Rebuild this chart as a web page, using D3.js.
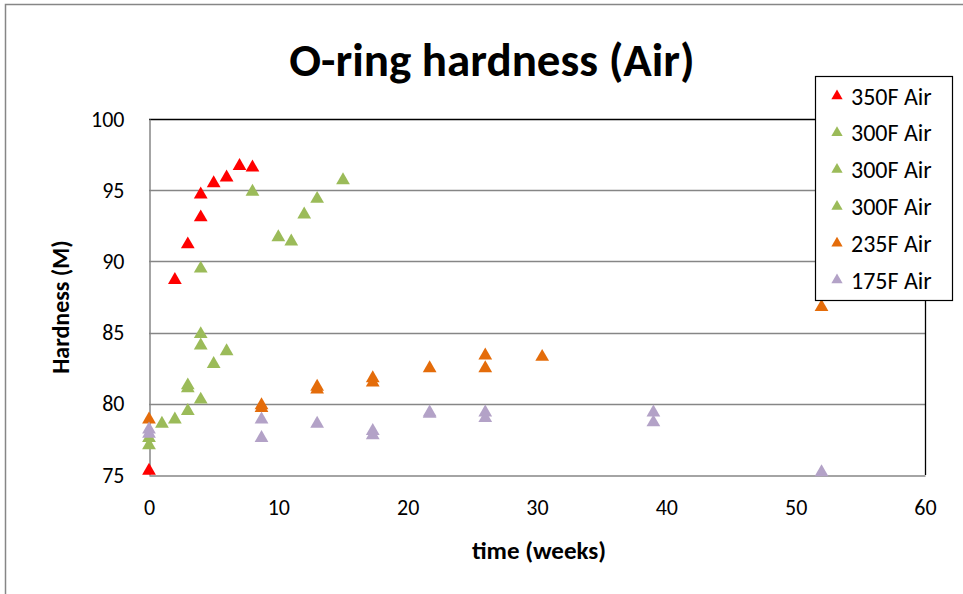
<!DOCTYPE html>
<html>
<head>
<meta charset="utf-8">
<script src="https://cdn.jsdelivr.net/npm/d3@7"></script>
<style>
  body { margin: 0; background: #fff; }
  text { font-family: Carlito, Lato, "Open Sans", sans-serif; fill: #000; }
</style>
</head>
<body>
<svg id="chart" width="963" height="594"></svg>
<script>
// data: [weeks, hardness]
var s350 = [[0,75.4],[2,88.8],[3,91.3],[4,93.2],[4,94.8],[5,95.6],[6,96.0],[7,96.8],[8,96.7]];
var s300a = [[0,77.2],[1,78.7],[2,79.0],[3,79.6],[4,80.4],[5,82.9],[6,83.8]];
var s300b = [[0,77.7],[3,81.2],[3,81.4],[4,84.2],[4,85.0]];
var s300c = [[4,89.6],[8,95.0],[10,91.8],[11,91.5],[12,93.4],[13,94.5],[15,95.8]];
var s235 = [[0,79.0],[8.7,79.8],[8.7,80.0],[13,81.1],[13,81.3],[17.3,81.6],[17.3,81.9],[21.7,82.6],[26,82.6],[26,83.5],[30.4,83.4],[52,86.9]];
var s175 = [[0,78.0],[0,78.3],[8.7,77.7],[8.7,79.0],[13,78.7],[17.3,77.9],[17.3,78.2],[21.7,79.4],[21.7,79.5],[26,79.1],[26,79.5],[39,78.8],[39,79.5],[52,75.3]];

var seriesNames = ["350F Air", "300F Air", "300F Air", "300F Air", "235F Air", "175F Air"];
var seriesColors = ["#ff0000", "#9bbb59", "#9bbb59", "#9bbb59", "#e46c0a", "#b3a2c7"];
var seriesData = [s350, s300a, s300b, s300c, s235, s175];

var xTicks = [0, 10, 20, 30, 40, 50, 60];
var yTicks = [75, 80, 85, 90, 95, 100];

var svg = d3.select("#chart");

// outer chart frame
svg.append("rect").attr("x", 5.5).attr("y", 4.5).attr("width", 1000).attr("height", 1000)
  .attr("fill", "#fff").attr("stroke", "#868686").attr("stroke-width", 1.5);

var pLeft = 149, pRight = 925, pTop = 119, pBottom = 475;

var x = d3.scaleLinear().domain([0, 60]).range([pLeft, pRight]);
var y = d3.scaleLinear().domain([75, 100]).range([pBottom, pTop]);

// gridlines
svg.append("g").selectAll("line").data(yTicks.slice(1, -1)).enter().append("line")
  .attr("x1", pLeft).attr("x2", pRight)
  .attr("y1", function(d){ return Math.round(y(d)) + 0.5; })
  .attr("y2", function(d){ return Math.round(y(d)) + 0.5; })
  .attr("stroke", "#868686").attr("stroke-width", 1.3);

// plot area border (top and right black)
svg.append("path").attr("d", "M" + pLeft + "," + (pTop + 0.5) + "H" + (pRight + 0.5) + "V" + pBottom)
  .attr("fill", "none").attr("stroke", "#000").attr("stroke-width", 1.3);

// axes
var xAxis = svg.append("g").attr("transform", "translate(0," + (pBottom + 0.5) + ")")
  .call(d3.axisBottom(x).tickValues(xTicks).tickSize(0).tickPadding(28));
var yAxis = svg.append("g").attr("transform", "translate(" + (pLeft + 0.5) + ",0)")
  .call(d3.axisLeft(y).tickValues(yTicks).tickSize(0).tickPadding(25));
[xAxis, yAxis].forEach(function(a){
  a.select(".domain").attr("stroke", "#868686").attr("stroke-width", 1.5);
  a.selectAll("text").attr("font-size", 22).attr("font-family", "Carlito, Lato, sans-serif").attr("fill", "#222");
});
xAxis.selectAll("text").attr("dy", "0.5em");

// markers
var tri = d3.symbol().type(d3.symbolTriangle).size(82);
seriesData.forEach(function(data, i){
  svg.append("g").selectAll("path").data(data).enter().append("path")
    .attr("d", tri)
    .attr("transform", function(d){ return "translate(" + x(d[0]) + "," + (y(d[1]) + 1.5) + ")"; })
    .attr("fill", seriesColors[i]);
});

// titles
svg.append("text").attr("x", 492).attr("y", 76).attr("text-anchor", "middle")
  .attr("font-size", 47).attr("font-weight", "bold").text("O-ring hardness (Air)");
svg.append("text").attr("x", (pLeft + pRight) / 2 + 2).attr("y", 559).attr("text-anchor", "middle")
  .attr("font-size", 25).attr("font-weight", "bold").text("time (weeks)");
svg.append("text").attr("transform", "translate(69," + ((pTop + pBottom) / 2 + 10) + ") rotate(-90)")
  .attr("text-anchor", "middle").attr("font-size", 24).attr("font-weight", "bold").text("Hardness (M)");

// legend
var lg = svg.append("g");
lg.append("rect").attr("x", 815.5).attr("y", 76.5).attr("width", 137).attr("height", 224)
  .attr("fill", "#fff").attr("stroke", "#000").attr("stroke-width", 1.2);
var row = lg.selectAll("g.row").data(seriesNames).enter().append("g").attr("class", "row")
  .attr("transform", function(d, i){ return "translate(837," + (96 + i * 36.8) + ")"; });
row.append("path").attr("d", d3.symbol().type(d3.symbolTriangle).size(55))
  .attr("fill", function(d, i){ return seriesColors[i]; });
row.append("text").attr("x", 14).attr("dy", "0.36em").attr("font-size", 24)
  .attr("fill", "#222").text(function(d){ return d; });
</script>
</body>
</html>
